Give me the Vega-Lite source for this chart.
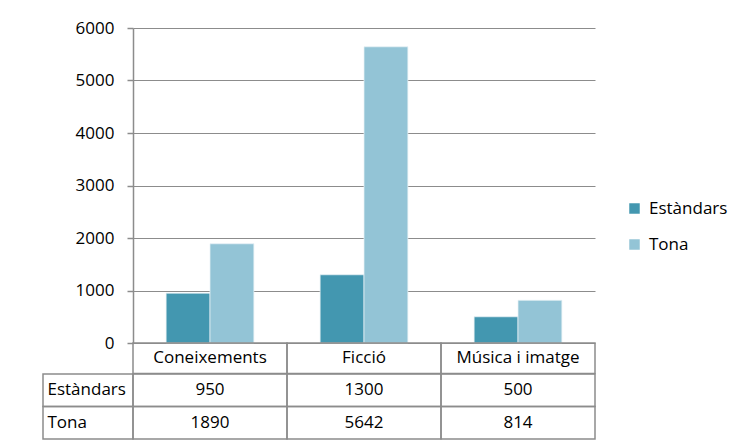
{
  "$schema": "https://vega.github.io/schema/vega-lite/v6.json",
  "padding": {"left": 42, "top": 19, "right": 5, "bottom": 5},
  "background": "white",
  "config": {
    "view": {"stroke": null},
    "font": "Open Sans",
    "axis": {"labelFont": "Open Sans", "labelFontSize": 17, "labelColor": "#000000", "domainColor": "#8c8c8c", "tickColor": "#8c8c8c", "gridColor": "#8c8c8c", "gridOpacity": 1}
  },
  "datasets": {
    "main": [
      {"category": "Coneixements", "series": "Estàndars", "value": 950},
      {"category": "Coneixements", "series": "Tona", "value": 1890},
      {"category": "Ficció", "series": "Estàndars", "value": 1300},
      {"category": "Ficció", "series": "Tona", "value": 5642},
      {"category": "Música i imatge", "series": "Estàndars", "value": 500},
      {"category": "Música i imatge", "series": "Tona", "value": 814}
    ]
  },
  "columns": 2,
  "spacing": {"row": 0, "column": 0},
  "bounds": "flush",
  "align": "each",
  "concat": [
    {
      "width": 90, "height": 315,
      "data": {"values": [{}]},
      "mark": {"type": "text"},
      "encoding": {"text": {"value": ""}}
    },
    {
      "width": 462, "height": 315,
      "data": {"name": "main"},
      "mark": {"type": "bar", "stroke": "#e8f2f5", "strokeWidth": 0.75},
      "encoding": {
        "x": {"field": "category", "type": "nominal", "sort": null, "title": null,
          "scale": {"paddingInner": 0.43, "paddingOuter": 0.215},
          "axis": null},
        "xOffset": {"field": "series", "sort": null},
        "y": {"field": "value", "type": "quantitative", "title": null,
          "scale": {"domain": [0, 6000]},
          "axis": {"values": [0, 1000, 2000, 3000, 4000, 5000, 6000], "format": "d", "tickSize": 6, "labelPadding": 13, "grid": true, "domain": true, "domainWidth": 1.5, "tickWidth": 1.5}},
        "color": {"field": "series", "type": "nominal", "sort": null,
          "scale": {"domain": ["Estàndars", "Tona"], "range": ["#4397b0", "#93c4d6"]},
          "legend": {"title": null, "orient": "none", "legendX": 583, "legendY": 172, "symbolType": "square", "symbolSize": 110, "symbolStrokeWidth": 0, "labelFont": "Open Sans", "labelFontSize": 17, "labelColor": "#000000", "labelOffset": 6, "rowPadding": 18, "padding": 0}}
      }
    },
    {
      "width": 90, "height": 30.5,
      "data": {"values": [{}]},
      "mark": {"type": "text"},
      "encoding": {"text": {"value": ""}}
    },
    {
      "width": 462, "height": 30.5,
      "data": {"name": "main"},
      "transform": [{"aggregate": [{"op": "count", "as": "n"}], "groupby": ["category"]}],
      "encoding": {
        "x": {"field": "category", "type": "nominal", "sort": null, "axis": null, "scale": {"paddingInner": 0, "paddingOuter": 0}}
      },
      "layer": [
        {"mark": {"type": "rect", "fill": "transparent", "stroke": "#8c8c8c", "strokeWidth": 1.5}},
        {"mark": {"type": "text", "fontSize": 17, "font": "Open Sans", "color": "#000000"},
          "encoding": {"text": {"field": "category", "type": "nominal"}}}
      ]
    },
    {
      "width": 90, "height": 65,
      "data": {"name": "main"},
      "transform": [{"aggregate": [{"op": "count", "as": "n"}], "groupby": ["series"]}],
      "mark": {"type": "rect", "fill": "transparent", "stroke": "#8c8c8c", "strokeWidth": 1.5},
      "encoding": {
        "y": {"field": "series", "type": "nominal", "sort": ["Estàndars", "Tona"], "title": null,
          "scale": {"paddingInner": 0, "paddingOuter": 0},
          "axis": {"ticks": false, "domain": false, "labelAlign": "left", "labelPadding": -4, "labelBaseline": "middle"}}
      }
    },
    {
      "width": 462, "height": 65,
      "data": {"name": "main"},
      "encoding": {
        "x": {"field": "category", "type": "nominal", "sort": null, "axis": null, "scale": {"paddingInner": 0, "paddingOuter": 0}},
        "y": {"field": "series", "type": "nominal", "sort": ["Estàndars", "Tona"], "axis": null, "scale": {"paddingInner": 0, "paddingOuter": 0}}
      },
      "layer": [
        {"mark": {"type": "rect", "fill": "transparent", "stroke": "#8c8c8c", "strokeWidth": 1.5}},
        {"mark": {"type": "text", "fontSize": 17, "font": "Open Sans", "color": "#000000"},
          "encoding": {"text": {"field": "value", "type": "quantitative", "format": "d"}}}
      ]
    }
  ]
}
